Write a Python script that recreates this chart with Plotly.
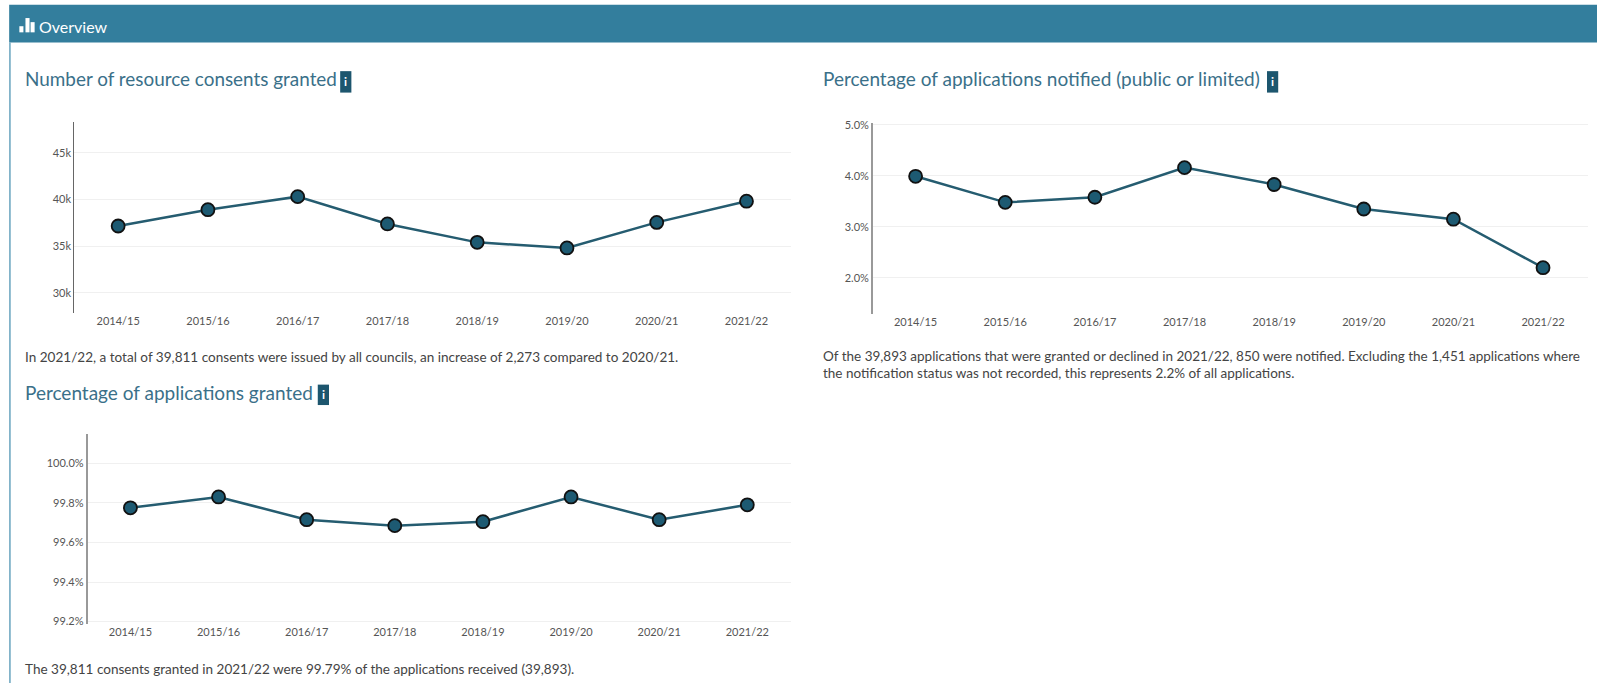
import plotly.graph_objects as go

W, H = 1597, 683

years = ["2014/15", "2015/16", "2016/17", "2017/18", "2018/19", "2019/20", "2020/21", "2021/22"]
consents = [37150, 38900, 40300, 37370, 35400, 34800, 37538, 39811]
notified = [3.99, 3.48, 3.58, 4.16, 3.83, 3.35, 3.15, 2.2]
granted = [99.775, 99.83, 99.715, 99.685, 99.705, 99.83, 99.715, 99.79]

consent_ticks = [30000, 35000, 40000, 45000]
consent_labels = ["30k", "35k", "40k", "45k"]
notified_ticks = [2, 3, 4, 5]
notified_labels = ["2.0%", "3.0%", "4.0%", "5.0%"]
granted_ticks = [99.2, 99.4, 99.6, 99.8, 100.0]
granted_labels = ["99.2%", "99.4%", "99.6%", "99.8%", "100.0%"]

FONT = "Lato"
TITLE = "#3a7089"
TEXT = "#444444"
TICK = "#555555"
LINE = "#255c70"
FILL = "#1d5a72"
HEADER = "#337e9d"


def px(x):
    return x / 1568


def py(y):
    return 1 - ((y - 6.2) / 0.965) / H


def rect(x0, y0, x1, y1, color):
    return dict(type="rect", xref="paper", yref="paper", x0=px(x0), x1=px(x1), y0=py(y1), y1=py(y0),
                fillcolor=color, line_width=0, layer="below")


def label(x, y, text, size, color, yanchor="middle", xanchor="left"):
    return dict(xref="paper", yref="paper", x=px(x), y=py(y), text=text, showarrow=False, xanchor=xanchor,
                yanchor=yanchor, align="left", font=dict(family=FONT, size=size, color=color),
                borderpad=0, borderwidth=0)


fig = go.Figure()

panels = [
    ("", consents, consent_ticks, consent_labels, (73, 777, 120, 307), (27810, 48280), -0.488, "#666666", 1.2),
    ("2", notified, notified_ticks, notified_labels, (857, 1559, 121, 308), (1.29, 5.03), -0.477, "#999999", 1.6),
    ("3", granted, granted_ticks, granted_labels, (86, 777, 425, 611), (99.19, 100.15), -0.486, "#999999", 1.6),
]

for suffix, values, ticks, labels, (x0, x1, y0, y1), yrange, xleft, axis_color, axis_width in panels:
    fig.add_trace(go.Scatter(
        x=years, y=values, mode="lines+markers", xaxis="x" + suffix, yaxis="y" + suffix,
        line=dict(color=LINE, width=2.5),
        marker=dict(size=13, color=FILL, line=dict(color="#111111", width=1.8)),
        showlegend=False, cliponaxis=False,
    ))
    fig.update_layout({
        "xaxis" + suffix: dict(
            domain=[px(x0), px(x1)], anchor="y" + suffix, type="category", showgrid=False,
            showline=False, zeroline=False, ticks="", tickfont=dict(family=FONT, size=11, color=TICK),
            range=[xleft, 7.5],
        ),
        "yaxis" + suffix: dict(
            domain=[py(y1), py(y0)], anchor="x" + suffix, range=list(yrange), tickvals=ticks, ticktext=labels,
            showgrid=True, gridcolor="#f0f0f0", gridwidth=1, zeroline=False, showline=True,
            linecolor=axis_color, linewidth=axis_width, ticks="", ticklen=0,
            tickfont=dict(family=FONT, size=11, color=TICK),
        ),
    })

shapes = [
    rect(9, 5, 1568, 42, HEADER),
    rect(9, 42, 10.5, 671, "#6aa5bf"),
    rect(19, 26, 23, 32, "white"),
    rect(25, 18, 29, 32, "white"),
    rect(30, 22, 34, 32, "white"),
    rect(334, 70, 345, 91, "#1d566e"),
    rect(312, 377, 323, 397, "#1d566e"),
    rect(1244, 70, 1255, 91, "#1d566e"),
]

annotations = [
    label(38, 26, "Overview", 16, "white"),
    label(25, 77, "Number of resource consents granted", 18.9, TITLE),
    label(808, 77, "Percentage of applications notified (public or limited)", 19, TITLE),
    label(25, 385, "Percentage of applications granted", 19, TITLE),
    label(339.5, 80, "<b>i</b>", 12, "white", xanchor="center"),
    label(317.5, 387, "<b>i</b>", 12, "white", xanchor="center"),
    label(1249.5, 80, "<b>i</b>", 12, "white", xanchor="center"),
    label(25, 350, "In 2021/22, a total of 39,811 consents were issued by all councils, an increase of 2,273 compared to 2020/21.", 13.55, TEXT),
    label(808, 349, "Of the 39,893 applications that were granted or declined in 2021/22, 850 were notified. Excluding the 1,451 applications where", 13.5, TEXT),
    label(808, 366, "the notification status was not recorded, this represents 2.2% of all applications.", 13.5, TEXT),
    label(25, 655.5, "The 39,811 consents granted in 2021/22 were 99.79% of the applications received (39,893).", 13.55, TEXT),
]

fig.update_layout(
    width=W, height=H, autosize=False, margin=dict(l=0, r=0, t=0, b=0),
    paper_bgcolor="white", plot_bgcolor="white", showlegend=False,
    font=dict(family=FONT), shapes=shapes, annotations=annotations,
)

fig.write_html("out.html", config={"displayModeBar": False}, post_script="document.body.style.margin='0';")
